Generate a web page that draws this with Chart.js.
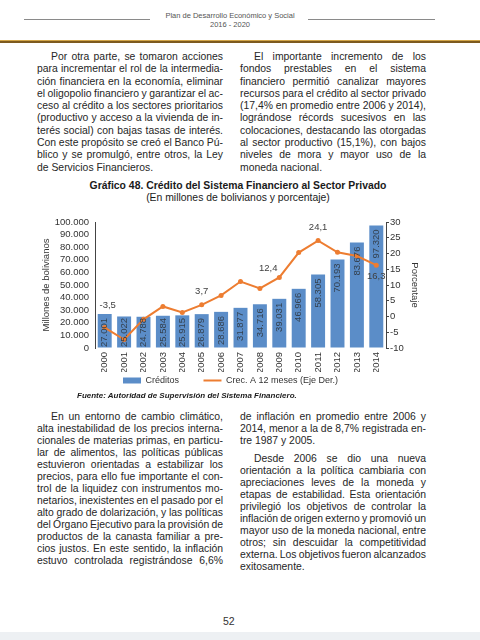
<!DOCTYPE html>
<html>
<head>
<meta charset="utf-8">
<script src="https://cdn.jsdelivr.net/npm/chart.js@4.4.1/dist/chart.umd.min.js"></script>
<style>
  body { margin: 0; width: 480px; height: 640px; position: relative; overflow: hidden; background: #fff;
         font-family: "Liberation Sans", Arial, sans-serif; color: #262626; }
  .abs { position: absolute; }
  .rule { position: absolute; height: 1px; background: #8a8a8a; }
  .head { position: absolute; left: 130px; width: 200px; text-align: center; font-size: 7.5px; color: #555; line-height: 9px; }
  .col { position: absolute; width: 186px; font-size: 10.4px; }
  .col span { display: block; white-space: nowrap; text-align: left; }
  .col span.i { padding-left: 14px; }
  .top span { line-height: 12.3px; }
  .bot span { line-height: 12px; }
  #chartWrap { position: absolute; left: 0; top: 210px; width: 480px; height: 190px; }
</style>
</head>
<body>
<div class="rule" style="left:24px;top:19px;width:126px"></div>
<div class="rule" style="left:308px;top:19px;width:127px"></div>
<div class="head" style="top:11px">Plan de Desarrollo Económico y Social</div>
<div class="head" style="top:20px">2016 - 2020</div>
<div class="abs" style="left:0;top:40px;width:480px;height:1px;background:#d2a548"></div>
<div class="abs" style="left:0;top:41px;width:480px;height:2px;background:#7d5a1e"></div>

<div class="col top" style="left:37px;top:51px">
  <span class="i">Por otra parte, se tomaron acciones</span>
  <span>para incrementar el rol de la intermedia-</span>
  <span>ción financiera en la economía, eliminar</span>
  <span>el oligopolio financiero y garantizar el ac-</span>
  <span>ceso al crédito a los sectores prioritarios</span>
  <span>(productivo y acceso a la vivienda de in-</span>
  <span>terés social) con bajas tasas de interés.</span>
  <span>Con este propósito se creó el Banco Pú-</span>
  <span>blico y se promulgó, entre otros, la Ley</span>
  <span class="e">de Servicios Financieros.</span>
</div>
<div class="col top" style="left:240px;top:51px">
  <span class="i">El importante incremento de los</span>
  <span>fondos prestables en el sistema</span>
  <span>financiero permitió canalizar mayores</span>
  <span>recursos para el crédito al sector privado</span>
  <span>(17,4% en promedio entre 2006 y 2014),</span>
  <span>lográndose récords sucesivos en las</span>
  <span>colocaciones, destacando las otorgadas</span>
  <span>al sector productivo (15,1%), con bajos</span>
  <span>niveles de mora y mayor uso de la</span>
  <span class="e">moneda nacional.</span>
</div>

<div class="abs" style="left:40px;top:180px;width:396px;text-align:center;font-size:10.4px;font-weight:bold;line-height:12px;color:#1a1a1a">Gráfico 48. Crédito del Sistema Financiero al Sector Privado</div>
<div class="abs" style="left:40px;top:192px;width:396px;text-align:center;font-size:10.4px;line-height:12px;color:#1a1a1a">(En millones de bolivianos y porcentaje)</div>

<div id="chartWrap"><canvas id="chart" width="480" height="190"></canvas></div>

<div class="abs" style="left:77px;top:391px;font-size:8px;font-weight:bold;font-style:italic;line-height:10px;color:#1a1a1a">Fuente: Autoridad de Supervisión del Sistema Financiero.</div>

<div class="col bot" style="left:37px;top:411px">
  <span class="i">En un entorno de cambio climático,</span>
  <span>alta inestabilidad de los precios interna-</span>
  <span>cionales de materias primas, en particu-</span>
  <span>lar de alimentos, las políticas públicas</span>
  <span>estuvieron orientadas a estabilizar los</span>
  <span>precios, para ello fue importante el con-</span>
  <span>trol de la liquidez con instrumentos mo-</span>
  <span>netarios, inexistentes en el pasado por el</span>
  <span>alto grado de dolarización, y las políticas</span>
  <span>del Órgano Ejecutivo para la provisión de</span>
  <span>productos de la canasta familiar a pre-</span>
  <span>cios justos. En este sentido, la inflación</span>
  <span>estuvo controlada registrándose 6,6%</span>
</div>
<div class="col bot" style="left:240px;top:411px">
  <span>de inflación en promedio entre 2006 y</span>
  <span>2014, menor a la de 8,7% registrada en-</span>
  <span class="e">tre 1987 y 2005.</span>
  <span class="i" style="margin-top:6px">Desde 2006 se dio una nueva</span>
  <span>orientación a la política cambiaria con</span>
  <span>apreciaciones leves de la moneda y</span>
  <span>etapas de estabilidad. Esta orientación</span>
  <span>privilegió los objetivos de controlar la</span>
  <span>inflación de origen externo y promovió un</span>
  <span>mayor uso de la moneda nacional, entre</span>
  <span>otros; sin descuidar la competitividad</span>
  <span>externa. Los objetivos fueron alcanzados</span>
  <span class="e">exitosamente.</span>
</div>

<div class="abs" style="left:223px;top:615px;font-size:10.5px;line-height:12px;color:#333">52</div>
<div class="abs" style="left:0;top:632px;width:480px;height:8px;background:#edf0f3"></div>

<script>
// Chart data
const years = ["2000", "2001", "2002", "2003", "2004", "2005", "2006", "2007",
  "2008", "2009", "2010", "2011", "2012", "2013", "2014"];
const creditos = [27001, 25022, 24788, 25584, 25915, 26879, 28686, 31877,
  34716, 39031, 46966, 58305, 70193, 83676, 97320];
const crecimiento = [-3.5, -7.3, -0.9, 3.2, 1.3, 3.7, 6.7, 11.1,
  8.9, 12.4, 20.3, 24.1, 20.4, 19.2, 16.3];
const leftTicks = { min: 0, max: 100000, step: 10000 };
const rightTicks = { min: -10, max: 30, step: 5 };

const barColor = "#5b8dc8";
const lineColor = "#ed7d31";
const FONT = '"Liberation Sans", Arial, sans-serif';

// which growth values get a label, with a nudge [index, dx, dy]
const growthLabels = [[0, 3, -22], [5, 0, -13], [9, -11, -9], [11, 0, -13], [14, 0, 11]];

// Justify each printed line by hand, so the breaks stay as in the page
document.querySelectorAll(".col span").forEach((line) => {
  if (line.classList.contains("e")) return;
  const spaces = (line.textContent.trim().match(/ /g) || []).length;
  if (!spaces) return;
  const range = document.createRange();
  range.selectNodeContents(line);
  const natural = range.getBoundingClientRect().width;
  const avail = line.clientWidth - parseFloat(getComputedStyle(line).paddingLeft);
  line.style.wordSpacing = `${(avail - natural) / spaces}px`;
});

function thousands(v) {
  return String(v).replace(/\B(?=(\d{3})+(?!\d))/g, ".");
}

const labelPlugin = {
  id: "valueLabels",
  afterDatasetsDraw(chart) {
    const ctx = chart.ctx;
    const base = chart.scales.y.getPixelForValue(0);
    ctx.save();
    ctx.font = `9.5px ${FONT}`;

    // credit values, rotated inside the bars
    ctx.fillStyle = "#34414f";
    chart.getDatasetMeta(0).data.forEach((bar, i) => {
      const txt = thousands(creditos[i]);
      const w = ctx.measureText(txt).width;
      const yTop = Math.min(bar.y + 4, base - w - 1);
      ctx.save();
      ctx.translate(bar.x, yTop);
      ctx.rotate(-Math.PI / 2);
      ctx.textAlign = "right";
      ctx.textBaseline = "middle";
      ctx.fillText(txt, 0, 0);
      ctx.restore();
    });

    // a few growth labels
    const pts = chart.getDatasetMeta(1).data;
    ctx.fillStyle = "#404040";
    ctx.textAlign = "center";
    ctx.textBaseline = "middle";
    growthLabels.forEach(([i, dx, dy]) => {
      const txt = String(crecimiento[i]).replace(".", ",");
      ctx.fillText(txt, pts[i].x + dx, pts[i].y + dy);
    });
    ctx.restore();
  },
};

Chart.defaults.font.family = FONT;
Chart.defaults.font.size = 9.5;
Chart.defaults.color = "#333";

new Chart(document.getElementById("chart"), {
  type: "bar",
  data: {
    labels: years,
    datasets: [
      {
        type: "bar",
        label: "Créditos",
        data: creditos,
        backgroundColor: barColor,
        yAxisID: "y",
        order: 1,
        categoryPercentage: 1,
        barPercentage: 0.72,
      },
      {
        type: "line",
        label: "Crec. A 12 meses (Eje Der.)",
        data: crecimiento,
        borderColor: lineColor,
        backgroundColor: lineColor,
        borderWidth: 2,
        pointRadius: 2.5,
        pointBorderWidth: 0,
        pointBackgroundColor: lineColor,
        tension: 0,
        yAxisID: "y1",
        order: 0,
      },
    ],
  },
  options: {
    responsive: false,
    animation: false,
    layout: { padding: { left: 37, right: 56, top: 12, bottom: 5 } },
    plugins: {
      tooltip: { enabled: false },
      legend: {
        position: "bottom",
        labels: {
          usePointStyle: true,
          pointStyleWidth: 18,
          boxHeight: 6,
          padding: 4,
          font: { size: 9 },
          color: "#333",
          generateLabels(chart) {
            const ds = chart.data.datasets;
            return [
              {
                text: ds[0].label + "\u2003\u2003 ",
                fillStyle: barColor,
                strokeStyle: barColor,
                lineWidth: 0,
                pointStyle: "rect",
                datasetIndex: 0,
                hidden: false,
                fontColor: "#333",
              },
              {
                text: ds[1].label,
                fillStyle: lineColor,
                strokeStyle: lineColor,
                lineWidth: 2,
                pointStyle: "line",
                datasetIndex: 1,
                hidden: false,
                fontColor: "#333",
              },
            ];
          },
        },
      },
    },
    scales: {
      x: {
        grid: { display: false, drawTicks: false },
        border: { display: false },
        ticks: { minRotation: 90, maxRotation: 90, padding: 4, autoSkip: false },
        afterFit: (s) => { s.height = 24; },
      },
      y: {
        position: "left",
        min: leftTicks.min,
        max: leftTicks.max,
        grid: { drawOnChartArea: false, drawTicks: false },
        border: { display: true, color: "#444" },
        ticks: { stepSize: leftTicks.step, padding: 6, autoSkip: false, callback: (v) => thousands(v) },
        title: {
          display: true,
          text: "Millones de bolivianos",
          padding: { top: 4, bottom: 0 },
          font: { size: 9.5 },
        },
        afterFit: (s) => { s.width = 58; },
      },
      y1: {
        position: "right",
        min: rightTicks.min,
        max: rightTicks.max,
        grid: { drawOnChartArea: false, drawTicks: true, tickLength: 3, color: "#444" },
        border: { display: true, color: "#444" },
        ticks: { stepSize: rightTicks.step, padding: 1, autoSkip: false },
        title: {
          display: true,
          text: "Porcentaje",
          padding: { top: 4, bottom: 0 },
          font: { size: 9.5 },
        },
        afterFit: (s) => { s.width = 38; },
      },
    },
  },
  plugins: [labelPlugin],
});
</script>
</body>
</html>
